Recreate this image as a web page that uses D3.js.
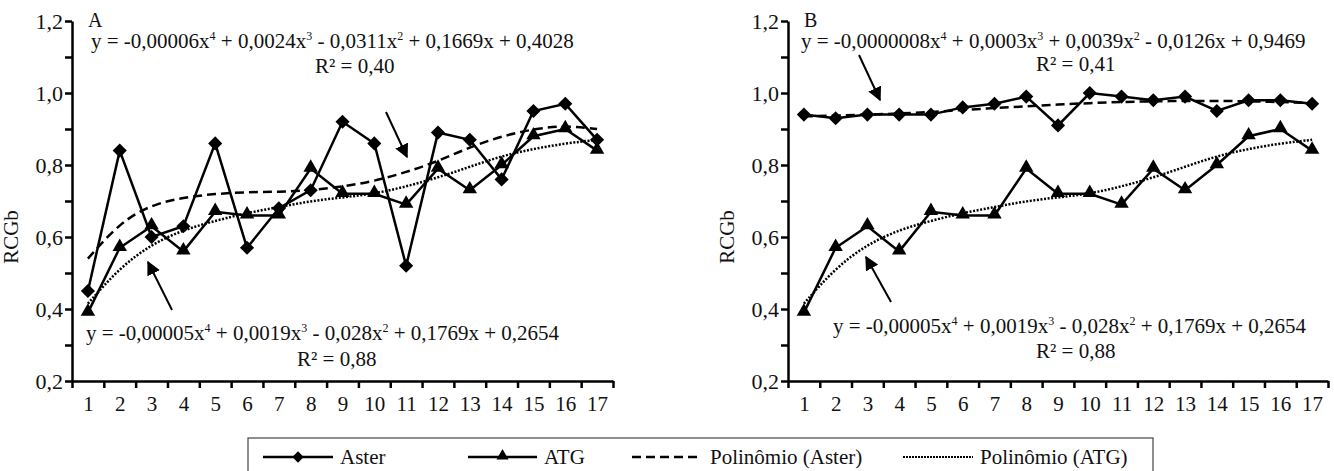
<!DOCTYPE html>
<html>
<head>
<meta charset="utf-8">
<script src="https://cdn.jsdelivr.net/npm/d3@7"></script>
<style>
  body { margin: 0; background: #fff; }
</style>
</head>
<body>
<svg id="chart" width="1334" height="471"></svg>
<script>
// categories (x axis)
const cats = [1, 2, 3, 4, 5, 6, 7, 8, 9, 10, 11, 12, 13, 14, 15, 16, 17];
const yTicks = [0.2, 0.3, 0.4, 0.5, 0.6, 0.7, 0.8, 0.9, 1.0, 1.1, 1.2];
const yLabelTicks = [0.2, 0.4, 0.6, 0.8, 1.0, 1.2];

// panel A
const asterA = [0.45, 0.84, 0.60, 0.63, 0.86, 0.57, 0.68, 0.73, 0.92, 0.86, 0.52, 0.89, 0.87, 0.76, 0.95, 0.97, 0.87];
const atgA = [0.39, 0.57, 0.63, 0.56, 0.67, 0.66, 0.66, 0.79, 0.72, 0.72, 0.69, 0.79, 0.73, 0.80, 0.88, 0.90, 0.84];
const polyAsterA = [0.54, 0.64, 0.69, 0.71, 0.72, 0.725, 0.725, 0.73, 0.74, 0.755, 0.78, 0.81, 0.85, 0.88, 0.90, 0.91, 0.90];
const polyAtgA = [0.415, 0.515, 0.58, 0.62, 0.645, 0.667, 0.683, 0.70, 0.71, 0.72, 0.74, 0.765, 0.795, 0.825, 0.845, 0.86, 0.87];

// panel B
const asterB = [0.94, 0.93, 0.94, 0.94, 0.94, 0.96, 0.97, 0.99, 0.91, 1.00, 0.99, 0.98, 0.99, 0.95, 0.98, 0.98, 0.97];
const atgB = [0.39, 0.57, 0.63, 0.56, 0.67, 0.66, 0.66, 0.79, 0.72, 0.72, 0.69, 0.79, 0.73, 0.80, 0.88, 0.90, 0.84];
const polyAsterB = [0.935, 0.937, 0.94, 0.943, 0.947, 0.953, 0.958, 0.963, 0.968, 0.972, 0.975, 0.977, 0.978, 0.978, 0.977, 0.975, 0.972];
const polyAtgB = [0.415, 0.515, 0.58, 0.62, 0.645, 0.667, 0.683, 0.70, 0.71, 0.72, 0.74, 0.765, 0.795, 0.825, 0.845, 0.86, 0.87];

const legendLabels = ['Aster', 'ATG', 'Polinômio (Aster)', 'Polinômio (ATG)'];

const FONT = 'serif';
const svg = d3.select('#chart');
const fmt = d => d.toFixed(1).replace('.', ',');

function txt(g, x, y, s, size) {
  return g.append('text').attr('x', x).attr('y', y)
    .attr('font-family', FONT).attr('font-size', size || 21).attr('fill', '#111').text(s);
}

// text with superscript exponents, parts: [text, sup, text, sup, ...]
function eqText(g, x, y, parts) {
  const t = g.append('text').attr('x', x).attr('y', y)
    .attr('font-family', FONT).attr('font-size', 21).attr('fill', '#111');
  parts.forEach((p, i) => {
    if (i % 2 === 0) {
      t.append('tspan').attr('dy', i === 0 ? 0 : 8).text(p);
    } else {
      t.append('tspan').attr('dy', -8).attr('font-size', 12).text(p);
    }
  });
}

svg.append('defs').append('marker')
  .attr('id', 'arrow')
  .attr('viewBox', '0 0 10 10')
  .attr('refX', 9).attr('refY', 5)
  .attr('markerWidth', 7).attr('markerHeight', 7)
  .attr('markerUnits', 'strokeWidth')
  .attr('orient', 'auto')
  .append('path')
  .attr('d', 'M0,0L10,5L0,10Z')
  .attr('fill', '#000');

function arrow(g, x1, y1, x2, y2) {
  g.append('line')
    .attr('x1', x1).attr('y1', y1).attr('x2', x2).attr('y2', y2)
    .attr('stroke', '#000').attr('stroke-width', 2)
    .attr('marker-end', 'url(#arrow)');
}

function panel(left, right, letter, aster, atg, polyAster, polyAtg) {
  const g = svg.append('g');
  const x = d3.scaleLinear().domain([0.5, 17.5]).range([left, right]);
  const y = d3.scaleLinear().domain([0.2, 1.2]).range([381, 21]);

  // y axis
  const yAx = g.append('g')
    .attr('transform', `translate(${left},0)`)
    .call(d3.axisLeft(y).tickValues(yTicks).tickSize(7).tickSizeOuter(0)
      .tickFormat(d => yLabelTicks.some(v => Math.abs(v - d) < 1e-9) ? fmt(d) : ''));
  yAx.attr('font-family', FONT).attr('font-size', 22);
  yAx.selectAll('text').attr('x', -9).attr('fill', '#111');
  yAx.selectAll('line, path').attr('stroke', '#000').attr('stroke-width', 2.5);

  // x axis: ticks at boundaries
  const xAx = g.append('g')
    .attr('transform', 'translate(0,381)')
    .call(d3.axisBottom(x).tickValues(d3.range(0.5, 17.6, 1)).tickSize(7).tickSizeOuter(0).tickFormat(''));
  xAx.selectAll('line, path').attr('stroke', '#000').attr('stroke-width', 2.5);
  const xLab = g.append('g')
    .attr('transform', 'translate(0,381)')
    .call(d3.axisBottom(x).tickValues(cats).tickSize(0).tickPadding(15));
  xLab.select('.domain').remove();
  xLab.attr('font-family', FONT).attr('font-size', 21);
  xLab.selectAll('text').attr('fill', '#111');

  g.append('text')
    .attr('transform', `translate(${left - 54},237) rotate(-90)`)
    .attr('text-anchor', 'middle')
    .attr('font-family', FONT).attr('font-size', 21).attr('fill', '#111')
    .text('RCGb');

  txt(g, left + 16, 27, letter, 20);

  const line = d3.line().x((d, i) => x(cats[i])).y(d => y(d));
  const trend = d3.line().x((d, i) => x(cats[i])).y(d => y(d)).curve(d3.curveBasis);

  g.append('path').datum(polyAster)
    .attr('fill', 'none').attr('stroke', '#000').attr('stroke-width', 2.5)
    .attr('stroke-dasharray', '9,5').attr('d', trend);
  g.append('path').datum(polyAtg)
    .attr('fill', 'none').attr('stroke', '#000').attr('stroke-width', 2.5)
    .attr('stroke-dasharray', '2,1.6').attr('d', trend);

  g.append('path').datum(aster)
    .attr('fill', 'none').attr('stroke', '#000').attr('stroke-width', 2.5).attr('d', line);
  g.append('path').datum(atg)
    .attr('fill', 'none').attr('stroke', '#000').attr('stroke-width', 2.5).attr('d', line);

  g.selectAll('.dia').data(aster).enter().append('path')
    .attr('class', 'dia')
    .attr('d', d3.symbol(d3.symbolSquare, 100)())
    .attr('transform', (d, i) => `translate(${x(cats[i])},${y(d)}) rotate(45)`)
    .attr('fill', '#000');
  g.selectAll('.tri').data(atg).enter().append('path')
    .attr('class', 'tri')
    .attr('d', d3.symbol(d3.symbolTriangle, 90)())
    .attr('transform', (d, i) => `translate(${x(cats[i])},${y(d) - 1})`)
    .attr('fill', '#000');

  return g;
}

const gA = panel(72, 613, 'A', asterA, atgA, polyAsterA, polyAtgA);
eqText(gA, 91, 48, ['y = -0,00006x', '4', ' + 0,0024x', '3', ' - 0,0311x', '2', ' + 0,1669x + 0,4028']);
txt(gA, 315, 73, 'R² = 0,40');
eqText(gA, 86, 340, ['y = -0,00005x', '4', ' + 0,0019x', '3', '  - 0,028x', '2', ' + 0,1769x + 0,2654']);
txt(gA, 297, 366, 'R² = 0,88');
arrow(gA, 386, 112, 407, 157);
arrow(gA, 172, 310, 148, 262);

const gB = panel(788, 1328, 'B', asterB, atgB, polyAsterB, polyAtgB);
eqText(gB, 801, 48, ['y = -0,0000008x', '4', ' + 0,0003x', '3', ' + 0,0039x', '2', ' - 0,0126x + 0,9469']);
txt(gB, 1036, 71, 'R² = 0,41');
eqText(gB, 833, 333, ['y = -0,00005x', '4', ' + 0,0019x', '3', ' - 0,028x', '2', ' + 0,1769x + 0,2654']);
txt(gB, 1036, 358, 'R² = 0,88');
arrow(gB, 859, 55, 880, 100);
arrow(gB, 891, 302, 866, 257);

// legend
const lg = svg.append('g');
lg.append('rect').attr('x', 248).attr('y', 438).attr('width', 905).attr('height', 40)
  .attr('fill', 'none').attr('stroke', '#444').attr('stroke-width', 1.2);
const items = [
  { x0: 263, x1: 333, tx: 340, dash: null, sym: 'dia' },
  { x0: 468, x1: 537, tx: 544, dash: null, sym: 'tri' },
  { x0: 632, x1: 702, tx: 710, dash: '9,5', sym: null },
  { x0: 903, x1: 973, tx: 980, dash: '2,1', sym: null }
];
items.forEach((it, i) => {
  const ly = 457;
  lg.append('line').attr('x1', it.x0).attr('x2', it.x1).attr('y1', ly).attr('y2', ly)
    .attr('stroke', '#000').attr('stroke-width', it.dash === '2,1' ? 2 : 2.5)
    .attr('stroke-dasharray', it.dash);
  const cx = (it.x0 + it.x1) / 2;
  if (it.sym === 'dia') {
    lg.append('path').attr('d', d3.symbol(d3.symbolSquare, 64)())
      .attr('transform', `translate(${cx},${ly}) rotate(45)`).attr('fill', '#000');
  } else if (it.sym === 'tri') {
    lg.append('path').attr('d', d3.symbol(d3.symbolTriangle, 64)())
      .attr('transform', `translate(${cx},${ly - 1})`).attr('fill', '#000');
  }
  txt(lg, it.tx, ly + 7, legendLabels[i]);
});
</script>
</body>
</html>
